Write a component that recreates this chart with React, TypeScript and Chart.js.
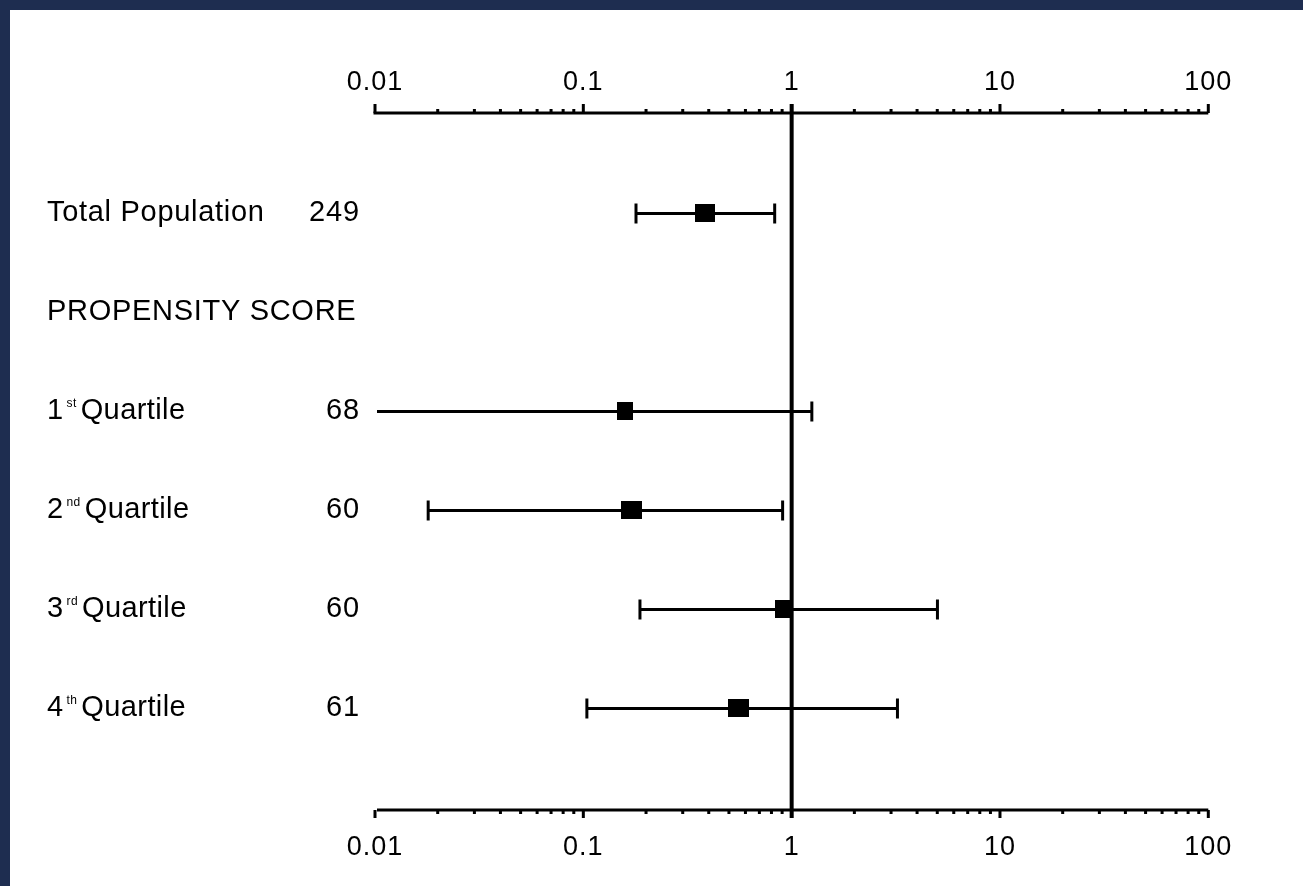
import React, { useEffect, useRef } from 'react';
import { Chart, registerables } from 'chart.js';

Chart.register(...registerables);

// ---- data ----
const rowNames = ['Total Population', 'PROPENSITY SCORE', '1st Quartile', '2nd Quartile', '3rd Quartile', '4th Quartile'];
const rowCounts = ['249', '', '68', '60', '60', '61'];
const oddsRatio: (number | null)[] = [0.385, null, 0.159, 0.171, 0.918, 0.553];
const ciLower: (number | null)[] = [0.179, null, 0.0095, 0.018, 0.187, 0.104];
const ciUpper: (number | null)[] = [0.829, null, 1.25, 0.905, 5.01, 3.22];
const tickValues = [0.01, 0.1, 1, 10, 100];
const tickLabels = ['0.01', '0.1', '1', '10', '100'];
const referenceValue = 1;

// ---- styles ----
const NAVY = '#1e2d50';
const LABEL_FONT = '29px "Liberation Sans", Arial, sans-serif';
const SUP_FONT = '12px "Liberation Sans", Arial, sans-serif';
const TICK_FONT = '27px "Liberation Sans", Arial, sans-serif';
const markerWidths = [20, 0, 16, 21, 17, 21];
const markerHeight = 18;

function makeMarker(w: number, h: number): HTMLCanvasElement {
  const c = document.createElement('canvas');
  c.width = w;
  c.height = h;
  const g = c.getContext('2d')!;
  g.fillStyle = '#000';
  g.fillRect(0, 0, w, h);
  return c;
}

const forestPlugin = {
  id: 'forest',
  beforeDatasetsDraw(chart: any) {
    const { ctx, chartArea } = chart;
    const x = chart.scales.x;
    const y = chart.scales.y;
    ctx.save();
    ctx.strokeStyle = '#000';
    ctx.lineWidth = 3;
    ctx.lineCap = 'butt';
    oddsRatio.forEach((v, i) => {
      if (v == null) return;
      const lo = ciLower[i] as number;
      const hi = ciUpper[i] as number;
      const yy = Math.round(y.getPixelForValue(i)) + 0.5;
      const loClipped = lo < x.min;
      const hiClipped = hi > x.max;
      const x0 = loClipped ? chartArea.left + 2 : x.getPixelForValue(lo);
      const x1 = hiClipped ? chartArea.right : x.getPixelForValue(hi);
      ctx.beginPath();
      ctx.moveTo(x0, yy);
      ctx.lineTo(x1, yy);
      ctx.stroke();
      const capH = 10;
      if (!loClipped) {
        ctx.beginPath();
        ctx.moveTo(x0, yy - capH);
        ctx.lineTo(x0, yy + capH);
        ctx.stroke();
      }
      if (!hiClipped) {
        ctx.beginPath();
        ctx.moveTo(x1, yy - capH);
        ctx.lineTo(x1, yy + capH);
        ctx.stroke();
      }
    });
    ctx.restore();
  },
  afterDatasetsDraw(chart: any) {
    const { ctx, chartArea } = chart;
    const x = chart.scales.x;
    const y = chart.scales.y;
    const top = chartArea.top;
    const bottom = chartArea.bottom;
    ctx.save();
    ctx.fillStyle = '#000';
    ctx.strokeStyle = '#000';

    // reference line
    const rx = x.getPixelForValue(referenceValue);
    ctx.fillRect(rx - 2, top - 9, 4, bottom - top + 17);

    // axes lines
    ctx.fillRect(chartArea.left - 1.5, top - 1.5, chartArea.right - chartArea.left + 1.5, 3);
    ctx.fillRect(chartArea.left + 2, bottom - 1.5, chartArea.right - chartArea.left - 2, 3);

    // major ticks
    tickValues.forEach((t) => {
      const px = x.getPixelForValue(t);
      ctx.fillRect(px - 1.5, top - 9, 3, 9);
      ctx.fillRect(px - 1.5, bottom, 3, 8);
    });
    // minor ticks
    for (let d = 0; d < tickValues.length - 1; d++) {
      for (let m = 2; m <= 9; m++) {
        const px = x.getPixelForValue(tickValues[d] * m);
        ctx.fillRect(px - 1.5, top - 4, 3, 4);
        ctx.fillRect(px - 1.5, bottom, 3, 4);
      }
    }

    // tick labels
    ctx.font = TICK_FONT;
    ctx.textAlign = 'center';
    ctx.textBaseline = 'alphabetic';
    (ctx as any).letterSpacing = '1px';
    tickValues.forEach((t, i) => {
      const px = x.getPixelForValue(t);
      ctx.fillText(tickLabels[i], px, top - 23);
      ctx.fillText(tickLabels[i], px, bottom + 45);
    });

    // row labels
    const labelX = 37;
    const countRight = 350;
    rowNames.forEach((name, i) => {
      const base = Math.round(y.getPixelForValue(i)) + 8;
      ctx.textAlign = 'left';
      const m = name.match(/^(\d)(st|nd|rd|th) (.+)$/);
      if (m) {
        (ctx as any).letterSpacing = '0.4px';
        ctx.font = LABEL_FONT;
        ctx.fillText(m[1], labelX, base);
        const w = ctx.measureText(m[1]).width;
        ctx.font = SUP_FONT;
        ctx.fillText(m[2], labelX + w + 3, base - 12);
        const ws = ctx.measureText(m[2]).width;
        ctx.font = LABEL_FONT;
        ctx.fillText(m[3], labelX + w + ws + 7, base);
      } else {
        (ctx as any).letterSpacing = '0.7px';
        ctx.font = LABEL_FONT;
        ctx.fillText(name, labelX, base);
      }
      if (rowCounts[i]) {
        (ctx as any).letterSpacing = '0.9px';
        ctx.font = LABEL_FONT;
        ctx.textAlign = 'right';
        ctx.fillText(rowCounts[i], countRight, base);
      }
    });
    ctx.restore();
  },
};

export default function App() {
  const canvasRef = useRef<HTMLCanvasElement | null>(null);

  useEffect(() => {
    document.body.style.margin = '0';
    const canvas = canvasRef.current!;
    const points: { x: number; y: number }[] = [];
    const styles: HTMLCanvasElement[] = [];
    oddsRatio.forEach((v, i) => {
      if (v == null) return;
      points.push({ x: v, y: i });
      styles.push(makeMarker(markerWidths[i], markerHeight));
    });

    const chart = new Chart(canvas, {
      type: 'scatter',
      data: {
        datasets: [
          {
            label: 'Odds ratio',
            data: points,
            pointStyle: styles as any,
            pointRadius: 10,
            backgroundColor: '#000',
            borderColor: '#000',
          },
        ],
      },
      options: {
        responsive: false,
        animation: false,
        devicePixelRatio: 1,
        layout: { padding: { left: 365, right: 94.7, top: 103, bottom: 76 } },
        plugins: { legend: { display: false }, tooltip: { enabled: false } },
        scales: {
          x: { type: 'logarithmic', min: 0.01, max: 100, display: false },
          y: { type: 'linear', min: -1.01, max: 6.03, reverse: true, display: false },
        },
      },
      plugins: [forestPlugin],
    });
    return () => chart.destroy();
  }, []);

  return (
    <div
      style={{
        position: 'absolute',
        left: 0,
        top: 0,
        width: 1303,
        height: 886,
        boxSizing: 'border-box',
        background: '#fff',
        borderTop: `10px solid ${NAVY}`,
        borderLeft: `10px solid ${NAVY}`,
        overflow: 'hidden',
      }}
    >
      <canvas ref={canvasRef} width={1293} height={876} style={{ display: 'block', width: 1293, height: 876 }} />
    </div>
  );
}
